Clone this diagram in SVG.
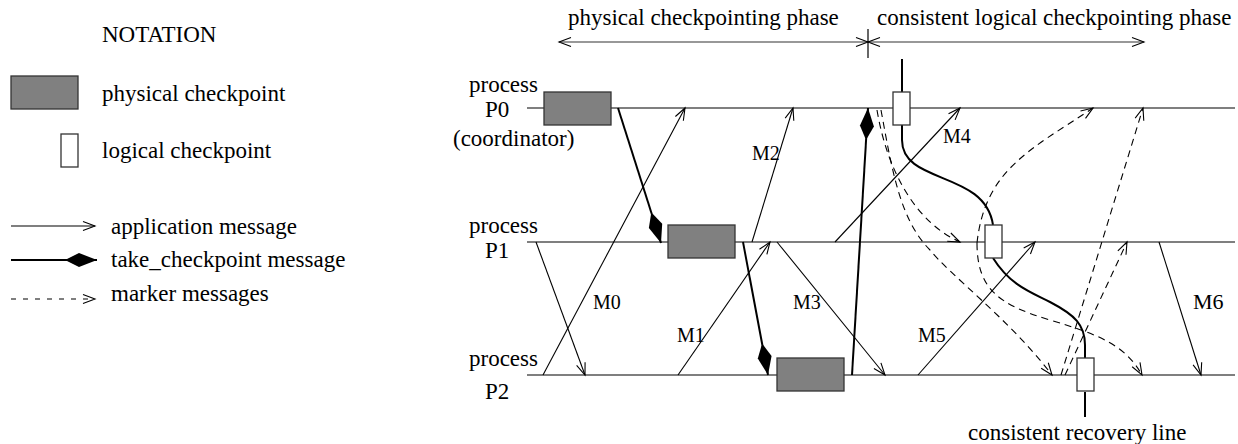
<svg xmlns="http://www.w3.org/2000/svg" width="1238" height="444" viewBox="0 0 1238 444">
  <style>
    text { font-family: "Liberation Serif", "Times New Roman", serif; fill: #000; }
    .t23 { font-size: 23px; }
    .lbl { font-size: 20px; }
    .timeline { stroke: #555; stroke-width: 1.5; fill: none; }
    .app { stroke: #000; stroke-width: 1.1; fill: none; marker-end: url(#open); }
    .take { stroke: #000; stroke-width: 2; fill: none; marker-end: url(#kite); }
    .mark { stroke: #000; stroke-width: 1.1; fill: none; stroke-dasharray: 7 5; marker-end: url(#open); }
    .phys { fill: #808080; stroke: #333; stroke-width: 1.3; }
    .logi { fill: #fff; stroke: #333; stroke-width: 1.3; }
    .recovery { stroke: #000; stroke-width: 2; fill: none; }
  </style>
  <defs>
    <marker id="open" markerUnits="userSpaceOnUse" viewBox="-14 -7 16 14" refX="0" refY="0" markerWidth="16" markerHeight="14" orient="auto-start-reverse" overflow="visible">
      <path d="M-12,-4.5 L0,0 L-12,4.5" fill="none" stroke="#000" stroke-width="1.1" stroke-dasharray="none"/>
    </marker>
    <marker id="kite" markerUnits="userSpaceOnUse" viewBox="-32 -9 34 18" refX="0" refY="0" markerWidth="34" markerHeight="18" orient="auto" overflow="visible">
      <path d="M0,0 L-18,-7 L-30,-1 L-30,1 L-18,7 Z" fill="#000" stroke="none"/>
    </marker>
  </defs>

  <!-- legend -->
  <g id="legend">
    <text class="t23" x="102" y="42">NOTATION</text>
    <rect class="phys" x="11" y="76" width="67" height="33"/>
    <text class="t23" x="102" y="101">physical checkpoint</text>
    <rect class="logi" x="61" y="134" width="17" height="33"/>
    <text class="t23" x="102" y="158">logical checkpoint</text>
    <line class="app" x1="11" y1="226" x2="95" y2="226"/>
    <text class="t23" x="111" y="234">application message</text>
    <line class="take" x1="11" y1="260" x2="97" y2="260"/>
    <text class="t23" x="111" y="267">take_checkpoint message</text>
    <line class="mark" x1="11" y1="299" x2="95" y2="299" style="stroke-dasharray: 5 7"/>
    <text class="t23" x="111" y="301">marker messages</text>
  </g>

  <!-- phase ranges -->
  <g id="phases">
    <text class="t23" x="568" y="25">physical checkpointing phase</text>
    <text class="t23" x="877" y="25">consistent logical checkpointing phase</text>
    <line x1="559" y1="42" x2="868" y2="42" stroke="#333" stroke-width="1.2" marker-start="url(#open)" marker-end="url(#open)"/>
    <line x1="868" y1="42" x2="1144" y2="42" stroke="#333" stroke-width="1.2" marker-start="url(#open)" marker-end="url(#open)"/>
    <line x1="868" y1="29" x2="868" y2="58" stroke="#000" stroke-width="1.2"/>
  </g>

  <!-- processes -->
  <g id="p0">
    <text class="t23" x="469" y="92">process</text>
    <text class="t23" x="485" y="117">P0</text>
    <text class="t23" x="453" y="146">(coordinator)</text>
    <line class="timeline" x1="527" y1="108" x2="1235" y2="108"/>
  </g>
  <g id="p1">
    <text class="t23" x="469" y="233">process</text>
    <text class="t23" x="485" y="258">P1</text>
    <line class="timeline" x1="527" y1="242" x2="1235" y2="242"/>
  </g>
  <g id="p2">
    <text class="t23" x="469" y="366">process</text>
    <text class="t23" x="485" y="399">P2</text>
    <line class="timeline" x1="527" y1="375" x2="1235" y2="375"/>
  </g>

  <!-- messages -->
  <g id="connectors">
    <!-- application messages -->
    <line class="app" x1="543" y1="375" x2="685" y2="108"/>
    <line class="app" x1="536" y1="242" x2="585" y2="375"/>
    <line class="app" x1="752" y1="242" x2="793" y2="108"/>
    <line class="app" x1="678" y1="375" x2="770" y2="242"/>
    <line class="app" x1="777" y1="242" x2="885" y2="375"/>
    <line class="app" x1="835" y1="242" x2="960" y2="108"/>
    <line class="app" x1="918" y1="375" x2="1035" y2="242"/>
    <line class="app" x1="1159" y1="242" x2="1201" y2="375"/>
    <!-- take_checkpoint messages -->
    <line class="take" x1="618" y1="108" x2="661" y2="243"/>
    <line class="take" x1="743" y1="242" x2="768" y2="375"/>
    <line class="take" x1="852" y1="375" x2="868" y2="108"/>
    <!-- marker messages -->
    <path class="mark" d="M877,110 C887,170 915,222 960,242"/>
    <path class="mark" d="M881,110 C892,170 900,220 930,250 C950,275 1010,320 1052,375"/>
    <path class="mark" d="M977,243 C985,170 1030,150 1093,108"/>
    <path class="mark" d="M977,243 C977,290 1000,305 1050,320 C1100,335 1125,345 1142,375"/>
    <path class="mark" d="M1061,375 L1143,108"/>
    <path class="mark" d="M1065,375 L1127,242"/>
  </g>

  <!-- message labels -->
  <g id="labels">
    <text class="lbl" x="593" y="309">M0</text>
    <text class="lbl" x="677" y="342">M1</text>
    <text class="lbl" x="752" y="160">M2</text>
    <text class="lbl" x="793" y="309">M3</text>
    <text class="lbl" x="943" y="143">M4</text>
    <text class="lbl" x="918" y="342">M5</text>
    <text class="lbl" x="1193" y="309" style="font-size:22px">M6</text>
  </g>

  <!-- consistent recovery line -->
  <g id="recovery-line">
    <path class="recovery" d="M902,59 L902,92"/>
    <path class="recovery" d="M902,125 L902,140 C902,185 985,170 993,225"/>
    <path class="recovery" d="M993,258 C1010,285 1030,292 1050,302 C1075,315 1085,325 1085,345 L1085,358"/>
    <path class="recovery" d="M1085,392 L1085,417"/>
    <text class="t23" x="968" y="440">consistent recovery line</text>
  </g>

  <!-- checkpoints -->
  <g id="physical-checkpoints">
    <rect class="phys" x="544" y="92" width="67" height="33"/>
    <rect class="phys" x="668" y="225" width="67" height="33"/>
    <rect class="phys" x="777" y="358" width="67" height="33"/>
  </g>
  <g id="logical-checkpoints">
    <rect class="logi" x="893" y="92" width="17" height="33"/>
    <rect class="logi" x="985" y="225" width="17" height="33"/>
    <rect class="logi" x="1077" y="358" width="17" height="33"/>
  </g>
</svg>
